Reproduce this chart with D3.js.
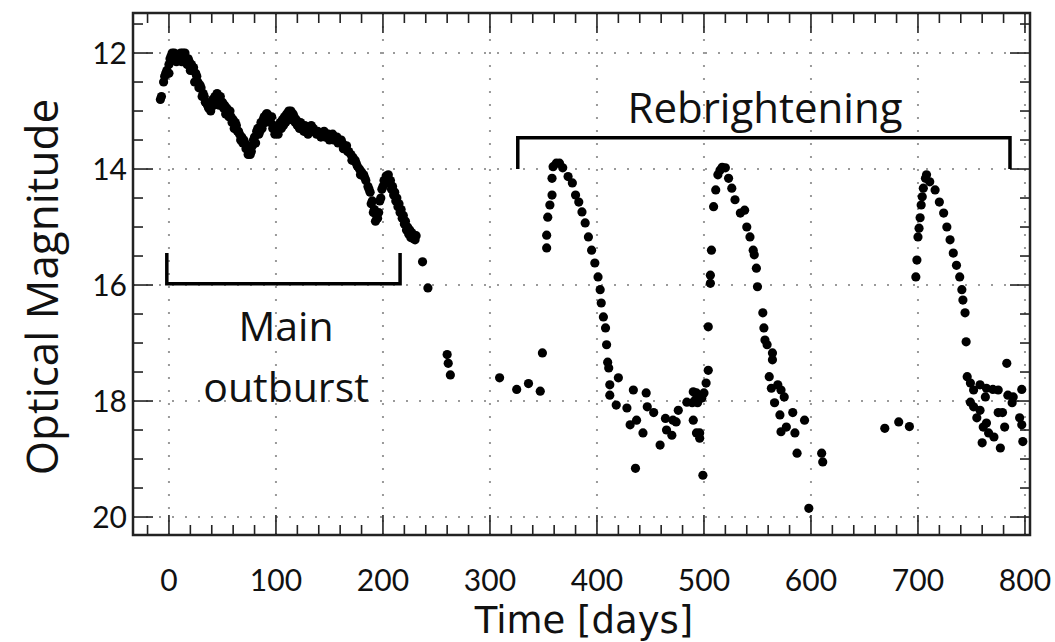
<!DOCTYPE html>
<html>
<head>
<meta charset="utf-8">
<script src="https://cdn.jsdelivr.net/npm/d3@7/dist/d3.min.js"></script>
<style>
  body { margin: 0; background: #fff; }
  text { font-family: "Open Sans", Lato, sans-serif; fill: #111; }
</style>
</head>
<body>
<script>
// Light curve: time (days) vs optical magnitude

const xTicks = [0, 100, 200, 300, 400, 500, 600, 700, 800];
const yTicks = [12, 14, 16, 18, 20];

// main outburst [day, mag] - upper edge of the band
const outburstPts = [
  [-8,12.8],[-7,12.75],[-5,12.5],[-4,12.4],[-3,12.35],[-2,12.3],[0,12.2],[1,12.1],[2,12.05],[3,12.0],
  [5,12.0],[6,12.05],[8,12.1],[9,12.05],[11,12.0],[13,12.0],[14,12.05],[15,12.0],[16,12.1],[18,12.1],
  [19,12.15],[21,12.2],[22,12.3],[23,12.25],[25,12.35],[26,12.4],[27,12.5],[29,12.55],[30,12.6],[32,12.7],
  [33,12.75],[35,12.85],[36,12.9],[38,12.95],[40,12.85],[41,12.8],[43,12.75],[45,12.7],[46,12.8],[48,12.75],
  [50,12.85],[52,12.9],[54,12.95],[55,13.0],[57,13.0],[58,13.1],[60,13.15],[62,13.2],[63,13.25],[65,13.35],
  [66,13.4],[68,13.45],[70,13.5],[71,13.55],[73,13.6],[75,13.65],[77,13.7],[78,13.6],[79,13.5],[80,13.45],
  [82,13.35],[83,13.3],[85,13.35],[86,13.2],[88,13.15],[89,13.1],[91,13.05],[92,13.05],[94,13.15],[95,13.2],
  [96,13.1],[98,13.25],[100,13.3],[101,13.35],[103,13.3],[104,13.2],[106,13.15],[108,13.1],[110,13.05],[112,13.0],
  [114,13.0],[116,13.05],[117,13.1],[119,13.15],[121,13.2],[123,13.2],[125,13.25],[127,13.25],[129,13.3],[131,13.3],
  [133,13.25],[135,13.3],[137,13.35],[139,13.35],[141,13.4],[143,13.4],[145,13.35],[147,13.4],[149,13.4],[151,13.45],
  [153,13.4],[155,13.45],[157,13.45],[159,13.5],[161,13.5],[162,13.55],[164,13.6],[166,13.6],[168,13.7],[170,13.75],
  [172,13.8],[174,13.85],[176,13.95],[178,14.0],[180,14.05],[182,14.1],[184,14.2],[186,14.3],[188,14.4],[190,14.55],
  [192,14.7],[194,14.8],[196,14.75],[197,14.55],[199,14.35],[201,14.2],[203,14.12],[205,14.1],[207,14.2],[209,14.3],
  [211,14.4],[213,14.5],[215,14.6],[217,14.7],[219,14.8],[221,14.9],[223,15.0],[225,15.05],[227,15.1],[229,15.15],
  [231,15.15],[237,15.6],[242,16.05]
];

// main outburst - lower edge of the band
const outburstPts2 = [
  [0,12.35],[4,12.1],[7,12.15],[10,12.1],[12,12.15],[17,12.2],[20,12.3],[24,12.5],[28,12.6],[31,12.75],
  [34,12.85],[37,12.95],[39,13.0],[42,12.9],[44,12.85],[47,12.9],[51,12.95],[53,13.05],[56,13.1],[59,13.2],
  [61,13.3],[64,13.35],[67,13.5],[69,13.55],[72,13.65],[74,13.75],[76,13.75],[81,13.55],[84,13.4],[87,13.3],
  [90,13.2],[93,13.1],[97,13.3],[99,13.4],[102,13.4],[105,13.3],[107,13.25],[109,13.2],[111,13.1],[113,13.1],
  [115,13.15],[118,13.2],[120,13.25],[122,13.3],[124,13.3],[126,13.35],[130,13.4],[134,13.35],[138,13.4],[142,13.45],
  [146,13.45],[150,13.5],[154,13.5],[158,13.55],[163,13.65],[167,13.7],[171,13.85],[175,13.9],[179,14.1],[183,14.15],
  [187,14.35],[189,14.6],[191,14.75],[193,14.9],[195,14.85],[198,14.5],[200,14.3],[204,14.2],[206,14.25],[208,14.35],
  [210,14.45],[212,14.55],[214,14.65],[216,14.75],[218,14.85],[220,14.95],[222,15.05],[224,15.12],[226,15.18],[228,15.2],
  [230,15.22]
];

// quiescent points between the outbursts
const gapPts = [
  [260,17.2],[261,17.35],[263,17.55],[309,17.6],[325,17.8],[336,17.7],[347,17.83],[349,17.17],
  [669,18.47],[682,18.36],[692,18.44]
];

// first rebrightening
const rebright1Pts = [
  [353,15.36],[353,15.14],[354,14.83],[356,14.62],[358,14.45],[358,14.16],[359,13.96],[362,13.9],[365,13.9],[368,13.98],
  [373,14.13],[377,14.24],[380,14.45],[383,14.57],[386,14.74],[389,14.93],[392,15.17],[395,15.4],[398,15.62],[401,15.86],
  [403,16.08],[404,16.31],[406,16.55],[408,16.74],[409,17.03],[410,17.33],[411,17.43],[412,17.72],[420,17.6],[412,17.9],
  [418,18.07],[428,18.12],[434,17.81],[431,18.41],[437,18.33],[443,18.55],[436,19.16],[446,17.86],[447,18.1],[453,18.2],
  [459,18.76],[464,18.3],[465,18.5],[470,18.59],[471,18.33],[476,18.16],[474,18.36],[484,18.02],[489,18.03],[490,18.33],
  [493,17.86],[493,18.55],[490,17.84],[492,17.98],[494,18.03],[498,17.95],[500,17.86],[502,17.69],[504,17.47],[496,18.55],
  [496,18.64],[499,19.28]
];

// second rebrightening
const rebright2Pts = [
  [504,16.72],[506,15.97],[506,15.83],[507,15.4],[509,14.65],[511,14.36],[513,14.1],[515,14.02],[517,13.97],[520,13.98],
  [523,14.16],[526,14.33],[529,14.53],[534,14.76],[538,14.71],[540,15.0],[543,15.17],[546,15.4],[547,15.48],[549,15.71],
  [550,16.03],[555,16.48],[556,16.74],[557,16.95],[559,17.03],[564,17.17],[564,17.29],[561,17.58],[563,17.78],[566,18.03],
  [569,17.72],[572,17.81],[575,17.93],[571,18.24],[572,18.53],[577,18.45],[583,18.2],[585,18.55],[587,18.9],[594,18.33],
  [610,18.9],[611,19.05],[598,19.85]
];

// third rebrightening
const rebright3Pts = [
  [698,15.86],[699,15.57],[700,15.17],[701,15.02],[702,14.84],[703,14.62],[704,14.48],[705,14.33],[707,14.16],[708,14.1],
  [711,14.22],[716,14.36],[720,14.57],[724,14.76],[727,15.0],[730,15.22],[733,15.45],[736,15.66],[739,15.86],[741,16.08],
  [742,16.26],[744,16.48],[745,16.98],[746,17.58],[749,17.69],[752,17.81],[758,17.72],[764,17.78],[770,17.8],[775,17.81],
  [783,17.35],[749,18.02],[752,18.1],[755,18.29],[758,18.16],[763,17.93],[761,18.45],[764,18.38],[766,18.55],[771,18.62],
  [775,18.2],[779,18.2],[781,18.45],[784,17.9],[788,18.03],[789,17.93],[760,18.72],[777,18.81],[795,18.29],[797,18.41],
  [797,17.8],[798,18.7]
];

const W = 1055, H = 642;
const pl = 133, pr = 1030, pt = 13, pb = 535;

const svg = d3.select('body').append('svg')
  .attr('width', W)
  .attr('height', H);

const x = d3.scaleLinear().domain([-33.6, 804.7]).range([pl, pr]);
const y = d3.scaleLinear().domain([11.31, 20.31]).range([pt, pb]);

// grid
const grid = svg.append('g')
  .attr('stroke', '#9a9a9a')
  .attr('stroke-width', 2)
  .attr('stroke-dasharray', '2,11');
grid.selectAll(null).data(xTicks).enter().append('line')
  .attr('x1', d => x(d)).attr('x2', d => x(d))
  .attr('y1', pt).attr('y2', pb);
grid.selectAll(null).data(yTicks).enter().append('line')
  .attr('x1', pl).attr('x2', pr)
  .attr('y1', d => y(d)).attr('y2', d => y(d));

// inward ticks on all four sides
const xMinor = d3.range(-20, 801, 20).filter(d => d % 100 !== 0);
const yMinor = d3.range(11.5, 20.01, 0.5).filter(d => d % 2 !== 0);
const tk = svg.append('g').attr('stroke', '#222').attr('stroke-width', 1.6);
function xt(vals, len) {
  tk.selectAll(null).data(vals).enter().append('line')
    .attr('x1', d => x(d)).attr('x2', d => x(d))
    .attr('y1', pb).attr('y2', pb - len);
  tk.selectAll(null).data(vals).enter().append('line')
    .attr('x1', d => x(d)).attr('x2', d => x(d))
    .attr('y1', pt).attr('y2', pt + len);
}
function yt(vals, len) {
  tk.selectAll(null).data(vals).enter().append('line')
    .attr('y1', d => y(d)).attr('y2', d => y(d))
    .attr('x1', pl).attr('x2', pl + len);
  tk.selectAll(null).data(vals).enter().append('line')
    .attr('y1', d => y(d)).attr('y2', d => y(d))
    .attr('x1', pr).attr('x2', pr - len);
}
xt(xTicks, 20); xt(xMinor, 10);
yt(yTicks, 20); yt(yMinor, 10);

// frame
svg.append('rect')
  .attr('x', pl).attr('y', pt)
  .attr('width', pr - pl).attr('height', pb - pt)
  .attr('fill', 'none').attr('stroke', '#222').attr('stroke-width', 2.5);

// tick labels
svg.append('g').selectAll('text').data(xTicks).enter().append('text')
  .attr('x', d => x(d)).attr('y', 591)
  .attr('text-anchor', 'middle')
  .style('font-family', 'Lato, sans-serif')
  .attr('font-size', 30)
  .text(d => d);
svg.append('g').selectAll('text').data(yTicks).enter().append('text')
  .attr('x', 127).attr('y', d => y(d) + 11)
  .attr('text-anchor', 'end')
  .style('font-family', 'Lato, sans-serif')
  .attr('font-size', 30)
  .text(d => d);

// axis titles
svg.append('text')
  .attr('x', 584).attr('y', 633)
  .attr('text-anchor', 'middle')
  .style('font-family', '"DejaVu Sans", sans-serif')
  .attr('font-size', 37)
  .text('Time [days]');
svg.append('text')
  .attr('transform', 'translate(58,287) rotate(-90)')
  .attr('text-anchor', 'middle')
  .attr('font-size', 44)
  .text('Optical Magnitude');

// data points
const allPts = [].concat(outburstPts, outburstPts2, gapPts, rebright1Pts, rebright2Pts, rebright3Pts);
svg.append('g').selectAll('circle').data(allPts).enter().append('circle')
  .attr('cx', d => x(d[0]))
  .attr('cy', d => y(d[1]))
  .attr('r', 4.6)
  .attr('fill', '#000');

// brackets
const line = d3.line().x(d => x(d[0])).y(d => y(d[1]));
svg.append('path')
  .attr('d', line([[-2, 15.45], [-2, 15.98], [216, 15.98], [216, 15.45]]))
  .attr('fill', 'none').attr('stroke', '#000').attr('stroke-width', 3.5);
svg.append('path')
  .attr('d', line([[326, 14.0], [326, 13.46], [786, 13.46], [786, 14.0]]))
  .attr('fill', 'none').attr('stroke', '#000').attr('stroke-width', 3.5);

svg.append('text')
  .attr('x', 286).attr('y', 341)
  .attr('text-anchor', 'middle').attr('font-size', 41)
  .text('Main');
svg.append('text')
  .attr('x', 286).attr('y', 402)
  .attr('text-anchor', 'middle').attr('font-size', 41)
  .text('outburst');
svg.append('text')
  .attr('x', 765).attr('y', 123)
  .attr('text-anchor', 'middle').attr('font-size', 42)
  .text('Rebrightening');
</script>
</body>
</html>
